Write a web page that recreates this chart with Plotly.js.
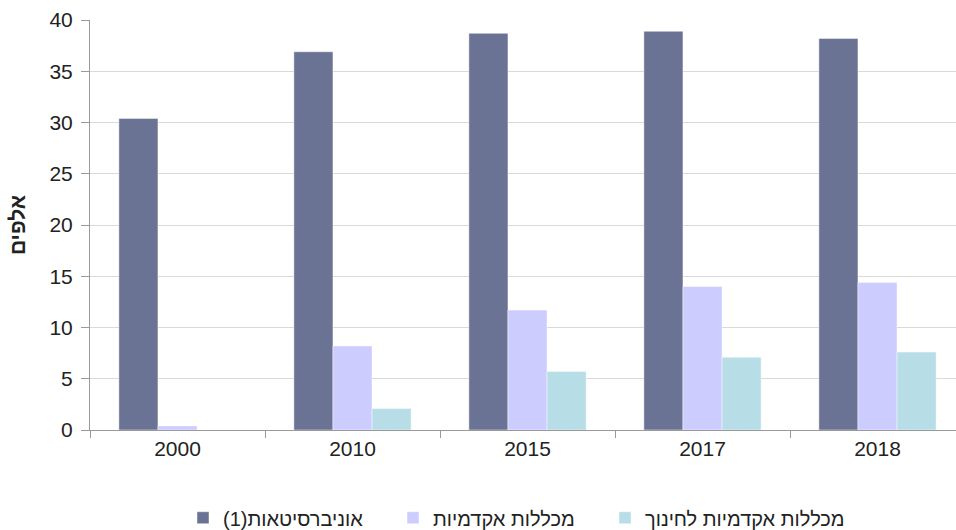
<!DOCTYPE html>
<html>
<head>
<meta charset="utf-8">
<script src="https://cdn.plot.ly/plotly-3.0.1.min.js"></script>
<style>
html,body{margin:0;padding:0;overflow:hidden;background:#fff;width:956px;height:530px;}
#chart{width:975px;height:530px;}
</style>
</head>
<body>
<div id="chart"></div>
<script>
var years = ["2000", "2010", "2015", "2017", "2018"];
var universities = [30.4, 36.9, 38.7, 38.9, 38.2];
var colleges = [0.4, 8.2, 11.7, 14.0, 14.4];
var educationColleges = [0, 2.1, 5.7, 7.1, 7.6];
var seriesNames = ["\u202Bאוניברסיטאות(1)\u202C", "מכללות אקדמיות", "מכללות אקדמיות לחינוך"];
var yTicks = [0, 5, 10, 15, 20, 25, 30, 35, 40];
var yTitle = "אלפים";

var font = "Arial, 'Liberation Sans', sans-serif";
var edge = {color: "rgba(255,255,255,0.45)", width: 1};

var data = [
  {type: "bar", x: years, y: universities, name: seriesNames[0], legend: "legend", marker: {color: "#6B7394", line: edge}, hoverinfo: "y"},
  {type: "bar", x: years, y: colleges, name: seriesNames[1], legend: "legend2", marker: {color: "#CCCCFF", line: edge}, hoverinfo: "y"},
  {type: "bar", x: years, y: educationColleges, name: seriesNames[2], legend: "legend3", marker: {color: "#B7DDE6", line: edge}, hoverinfo: "y"}
];

function leg(x) {
  return {orientation: "h", x: x, xanchor: "left", y: -0.214, yanchor: "middle", bgcolor: "rgba(0,0,0,0)",
          font: {family: font, size: 20, color: "#222"}};
}

var layout = {
  width: 975, height: 530,
  margin: {l: 90, r: 10, t: 20, b: 100, autoexpand: false},
  paper_bgcolor: "#fff", plot_bgcolor: "#fff",
  font: {family: font, size: 21, color: "#222"},
  barmode: "group", bargap: 0.33, bargroupgap: 0,
  showlegend: true,
  legend: leg((183 - 90) / 875),
  legend2: leg((393 - 90) / 875),
  legend3: leg((605 - 90) / 875),
  xaxis: {type: "category", range: [-0.5, 4.5], showline: true, linecolor: "#9a9a9a", linewidth: 1,
          ticks: "outside", tickson: "boundaries", ticklen: 7, tickcolor: "#9a9a9a",
          showgrid: false, zeroline: false, tickfont: {family: font, size: 21, color: "#222"}, fixedrange: true},
  yaxis: {range: [0, 40], tickvals: yTicks, ticktext: yTicks.map(String), showline: true, linecolor: "#9a9a9a",
          linewidth: 1, ticks: "outside", ticklen: 8, tickcolor: "#9a9a9a", showgrid: true, gridcolor: "#d9d9d9",
          gridwidth: 1, zeroline: false, ticklabelstandoff: 4, tickfont: {family: font, size: 21, color: "#222"},
          title: {text: "<b>" + yTitle + "</b>", font: {family: font, size: 21, color: "#222"}, standoff: 18},
          fixedrange: true}
};

Plotly.newPlot("chart", data, layout, {displayModeBar: false, staticPlot: true});
</script>
</body>
</html>
